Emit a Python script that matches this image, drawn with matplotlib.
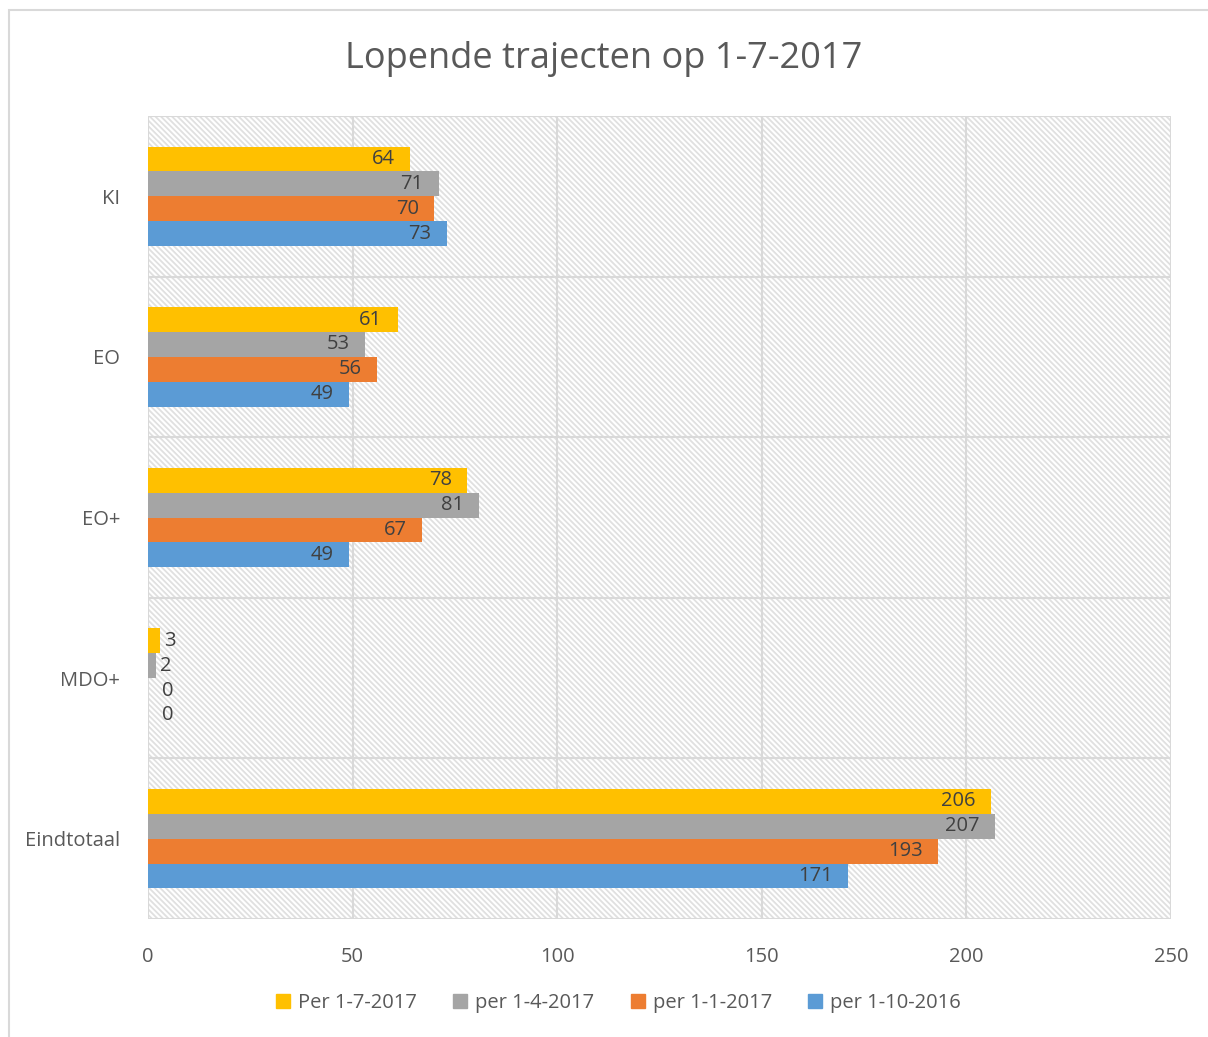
import matplotlib
matplotlib.use("Agg")
import matplotlib.pyplot as plt
from matplotlib.patches import Rectangle
import numpy as np

categories = ["KI", "EO", "EO+", "MDO+", "Eindtotaal"]
series_names = ["Per 1-7-2017", "per 1-4-2017", "per 1-1-2017", "per 1-10-2016"]
per_1_7_2017 = [64, 61, 78, 3, 206]
per_1_4_2017 = [71, 53, 81, 2, 207]
per_1_1_2017 = [70, 56, 67, 0, 193]
per_1_10_2016 = [73, 49, 49, 0, 171]
series_values = [per_1_7_2017, per_1_4_2017, per_1_1_2017, per_1_10_2016]
colors = ["#FFC000", "#A5A5A5", "#ED7D31", "#5B9BD5"]
x_ticks = [0, 50, 100, 150, 200, 250]

plt.rcParams['font.family'] = ['Open Sans', 'DejaVu Sans']
plt.rcParams['hatch.linewidth'] = 1.3
plt.rcParams['hatch.color'] = "#E0E0E0"

fig = plt.figure(figsize=(12.08, 10.37), dpi=100)
ax = fig.add_axes([148/1208, 1-919/1037, (1171-148)/1208, (919-116)/1037])

# figure border (only top and left visible)
fig.patches.append(Rectangle((9/1208, -0.05), 1.1, 1.05 - 10/1037, transform=fig.transFigure,
                             fill=False, edgecolor="#D9D9D9", linewidth=1.5))

n = len(categories)
ax.set_xlim(0, 250)
ax.set_ylim(n - 0.5, -0.5)

# hatched background
ax.add_patch(Rectangle((0, -0.5), 250, n, facecolor="white", edgecolor="#E0E0E0",
                       hatch="\\" * 6, linewidth=0, zorder=0))

bar_h = 0.155
offsets = [-1.5, -0.5, 0.5, 1.5]
y = np.arange(n)
lab_fs = 14.5
for vals, off, col in zip(series_values, offsets, colors):
    ax.barh(y + off * bar_h, vals, height=bar_h, color=col, zorder=3)
    for yi, v in zip(y, vals):
        if v >= 10:
            ax.annotate(str(v), (v, yi + off * bar_h), xytext=(-11, 0), textcoords="offset points",
                        ha="right", va="center", fontsize=lab_fs, color="#404040", zorder=4)
        else:
            ax.annotate(str(v), (max(v, 0), yi + off * bar_h), xytext=(3 if v > 0 else 10, 0),
                        textcoords="offset points",
                        ha="left", va="center", fontsize=lab_fs, color="#404040", zorder=4)

# gridlines
for xt in x_ticks:
    ax.axvline(xt, color="#D9D9D9", linewidth=1.5, zorder=1)
for b in np.arange(-0.5, n, 1.0):
    ax.axhline(b, color="#D9D9D9", linewidth=1.5, zorder=1)

for s in ax.spines.values():
    s.set_visible(False)

ax.set_xticks(x_ticks)
ax.set_xticklabels([str(t) for t in x_ticks])
ax.set_yticks(y)
ax.set_yticklabels(categories)
ax.tick_params(axis="both", length=0, labelsize=14.5, labelcolor="#595959")
ax.tick_params(axis="x", pad=20)
ax.tick_params(axis="y", pad=20)

fig.text(0.5, 1 - 59/1037, "Lopende trajecten op 1-7-2017", ha="center", va="center",
         fontsize=26, color="#595959")

handles = [Rectangle((0, 0), 1, 1, color=c) for c in colors]
fig.legend(handles, series_names, loc="center", bbox_to_anchor=(0.512, 1 - 1003/1037), ncol=4,
           frameon=False, fontsize=14.5, handlelength=0.7, handleheight=0.7, handletextpad=0.4,
           columnspacing=1.8, labelcolor="#595959")

fig.savefig("out.png", dpi=100)
